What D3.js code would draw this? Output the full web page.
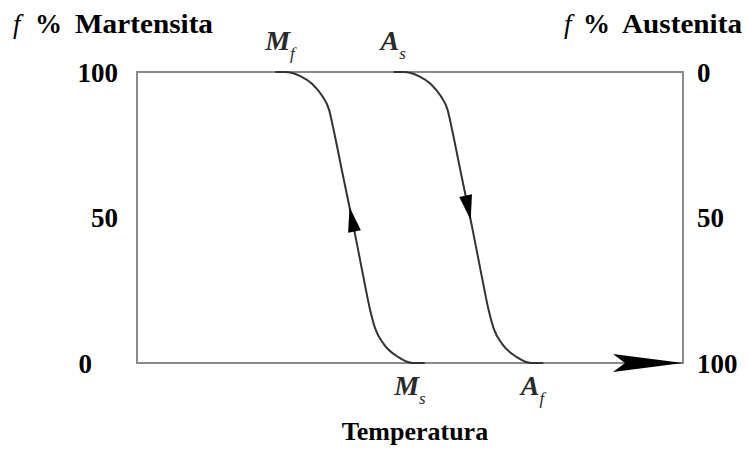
<!DOCTYPE html>
<html>
<head>
<meta charset="utf-8">
<script src="https://cdn.jsdelivr.net/npm/d3@7"></script>
<style>
  body { margin: 0; background: #fff; }
  text { font-family: "Liberation Serif", "DejaVu Serif", serif; }
</style>
</head>
<body>
<script>
// temperature (arbitrary units 0-100) and fraction
var tempM = [25.3, 27.1, 29.9, 32.1, 33.9, 35.2, 35.9, 37.7, 39.6, 41.4, 42.7, 43.6, 45.2, 47.8, 50.5, 52.7];
var fracM = [100, 100, 98.6, 95.9, 91.8, 86.9, 81.1, 64.6, 47.4, 30.2, 18.2, 12.0, 6.5, 2.1, 0, 0];

var tempA = [47.0, 48.8, 51.6, 53.8, 55.6, 56.9, 57.6, 59.4, 61.3, 63.1, 64.4, 65.3, 66.9, 69.5, 72.2, 74.4];
var fracA = [0, 0, 1.4, 4.1, 8.2, 13.1, 18.9, 35.4, 52.6, 69.8, 81.8, 88.0, 93.5, 97.9, 100, 100];

var ticksLeft = [100, 50, 0];
var ticksRight = [0, 50, 100];

// where the direction arrows sit (fraction at arrow tip)
var arrowM = 53.6;
var arrowA = 50.9;

var w = 748;
var h = 450;
var boxL = 137, boxR = 683, boxT = 72, boxB = 363;

var svg = d3.select("body")
            .append("svg")
            .attr("width", w)
            .attr("height", h);

var x = d3.scaleLinear().domain([0, 100]).range([boxL, boxR]);
var yM = d3.scaleLinear().domain([0, 100]).range([boxB, boxT]);
var yA = d3.scaleLinear().domain([0, 100]).range([boxT, boxB]);

// frame
svg.append("rect")
   .attr("x", boxL)
   .attr("y", boxT)
   .attr("width", boxR - boxL)
   .attr("height", boxB - boxT)
   .attr("fill", "none")
   .attr("stroke", "#8a8a8a")
   .attr("stroke-width", 2);

// left axis labels
var axL = svg.append("g")
   .attr("transform", "translate(" + (boxL - 19) + ",0)")
   .call(d3.axisLeft(yM).tickValues(ticksLeft).tickSize(0).tickPadding(0));
axL.select(".domain").remove();
axL.selectAll("text")
   .attr("font-family", "Liberation Serif")
   .attr("font-weight", "bold")
   .attr("font-size", 27)
   .attr("fill", "#000")
   .attr("dy", "0.34em")
   .attr("x", function(d) { return d === 0 ? -26 : 0; });

// right axis labels
var axR = svg.append("g")
   .attr("transform", "translate(" + (boxR + 14) + ",0)")
   .call(d3.axisRight(yA).tickValues(ticksRight).tickSize(0).tickPadding(0));
axR.select(".domain").remove();
axR.selectAll("text")
   .attr("font-family", "Liberation Serif")
   .attr("font-weight", "bold")
   .attr("font-size", 27)
   .attr("fill", "#000")
   .attr("dy", "0.34em");

// arrow on the temperature axis
svg.append("path")
   .attr("d", "M" + boxR + "," + boxB + " L" + (boxR - 70) + "," + (boxB - 9) +
              " L" + (boxR - 58) + "," + boxB + " L" + (boxR - 70) + "," + (boxB + 9) + " Z")
   .attr("fill", "#000");

// curves
var line = d3.line().curve(d3.curveMonotoneX);

var ptsM = tempM.map(function(t, i) { return [x(t), yM(fracM[i])]; });
var ptsA = tempA.map(function(t, i) { return [x(t), yA(fracA[i])]; });

var pathM = svg.append("path")
   .attr("d", line(ptsM))
   .attr("fill", "none")
   .attr("stroke", "#333")
   .attr("stroke-width", 2);

var pathA = svg.append("path")
   .attr("d", line(ptsA))
   .attr("fill", "none")
   .attr("stroke", "#333")
   .attr("stroke-width", 2);

function lengthAtY(node, yy) {
  // path runs top to bottom, so y grows with length
  var lo = 0, hi = node.getTotalLength();
  for (var k = 0; k < 40; k++) {
    var mid = (lo + hi) / 2;
    if (node.getPointAtLength(mid).y < yy) lo = mid; else hi = mid;
  }
  return lo;
}

function addArrow(node, yy, up) {
  var L = lengthAtY(node, yy);
  var tip = node.getPointAtLength(L);
  var back = node.getPointAtLength(up ? L + 25 : L - 25);
  var dx = tip.x - back.x, dy = tip.y - back.y;
  var len = Math.sqrt(dx * dx + dy * dy);
  var nx = -dy / len * 6.5, ny = dx / len * 6.5;
  svg.append("path")
     .attr("d", "M" + tip.x + "," + tip.y +
                " L" + (back.x + nx) + "," + (back.y + ny) +
                " L" + (back.x - nx) + "," + (back.y - ny) + " Z")
     .attr("fill", "#000");
}

addArrow(pathM.node(), yM(arrowM), true);
addArrow(pathA.node(), yA(arrowA), false);

// curve end labels
function subLabel(xx, yy, main, sub, anchor) {
  var t = svg.append("text")
     .attr("x", xx)
     .attr("y", yy)
     .attr("font-style", "italic")
     .attr("font-weight", "bold")
     .attr("font-size", 28)
     .attr("fill", "#2a2a2a")
     .attr("text-anchor", anchor);
  t.append("tspan").text(main);
  t.append("tspan")
   .attr("dy", 9)
   .attr("font-size", 17)
   .attr("font-weight", "normal")
   .text(sub);
}

var n = tempM.length - 1;
subLabel(x(tempM[0]) - 10, 50, "M", "f", "start");
subLabel(x(tempA[0]) - 13, 50, "A", "s", "start");
subLabel(x(tempM[n]) + 1, 395, "M", "s", "end");
subLabel(x(tempA[n]) + 1, 395, "A", "f", "end");

// axis titles
function title(xf, xp, xw, ww, word) {
  var t = svg.append("text")
     .attr("y", 33)
     .attr("font-size", 27)
     .attr("fill", "#000");
  t.append("tspan").attr("x", xf).attr("font-style", "italic").text("f");
  t.append("tspan").attr("x", xp).attr("font-weight", "bold").text("%");
  t.append("tspan").attr("x", xw).attr("font-weight", "bold")
   .attr("textLength", ww).attr("lengthAdjust", "spacingAndGlyphs").text(word);
}
title(13, 35, 75, 138, "Martensita");
title(564, 583, 622, 120, "Austenita");

svg.append("text")
   .attr("x", 415)
   .attr("y", 440)
   .attr("text-anchor", "middle")
   .attr("font-size", 26)
   .attr("font-weight", "bold")
   .attr("fill", "#000")
   .text("Temperatura");
</script>
</body>
</html>
